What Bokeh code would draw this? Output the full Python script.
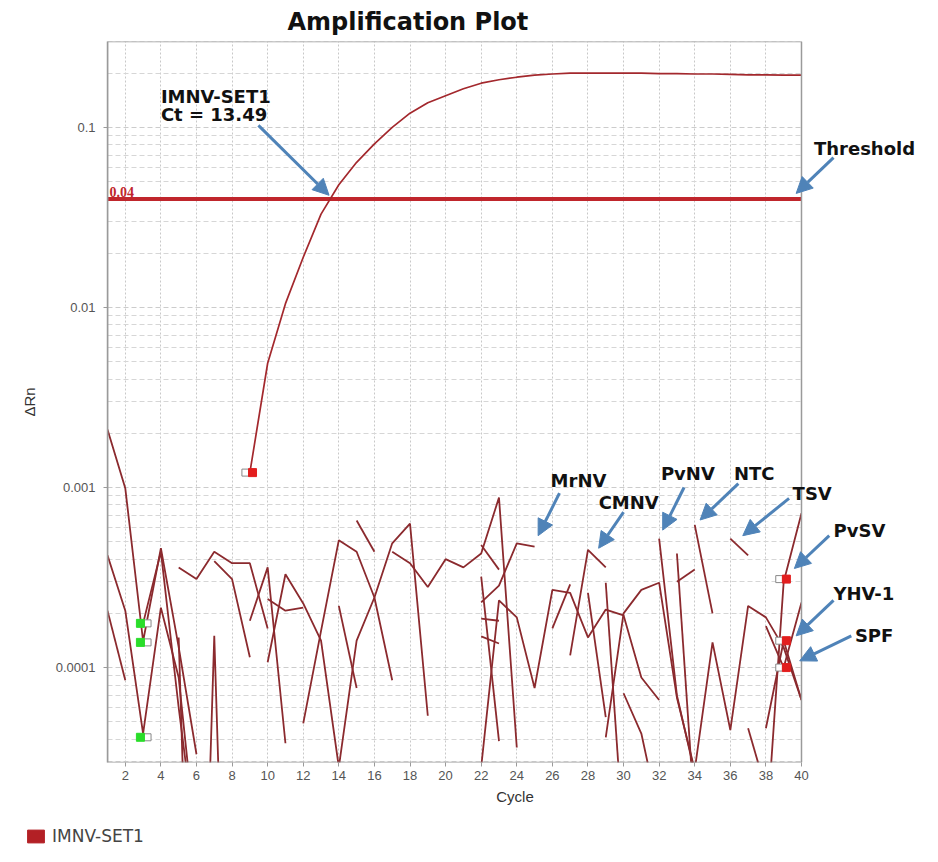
import numpy as np
from bokeh.plotting import figure
from bokeh.layouts import column
from bokeh.models import (Range1d, FixedTicker, CustomJSTickFormatter, Span, Label, BoxAnnotation,
                          Arrow, NormalHead, Legend, LegendItem, ColumnDataSource)
from bokeh.transform import dodge
from bokeh.embed import file_html
from bokeh.resources import INLINE

# ---------------- data ----------------
x_ticks = list(range(2, 41, 2))
y_ticks = [0.0001, 0.001, 0.01, 0.1]
cycle_first, cycle_last = 1, 40
y_low, y_high = 2.97e-5, 0.3
threshold = 0.04

# IMNV-SET1 amplification curve (cycle, delta Rn)
series_name = "IMNV-SET1"
imnv_cycle = list(range(9, 41))
imnv_value = [0.00121, 0.0049, 0.0105, 0.019, 0.033, 0.048, 0.064, 0.081, 0.100, 0.120,
              0.137, 0.150, 0.164, 0.176, 0.184, 0.190, 0.195, 0.198, 0.200, 0.200,
              0.200, 0.200, 0.200, 0.199, 0.199, 0.198, 0.198, 0.197, 0.196, 0.196,
              0.195, 0.195]

# negative samples / noise traces: (first cycle, values)
noise_starts = [1, 1, 1, 3, 5, 6, 5, 7, 9, 10, 10, 12, 14, 15, 17, 22, 22, 22, 22, 22,
                22, 26, 27, 28, 29, 29, 30, 32, 33, 33, 34, 36, 37, 38, 38, 38]
noise_values = [
    [2.1e-3, 9.9e-4, 1.4e-4, 4.6e-4, 1.3e-4, 3.3e-5],
    [4.2e-4, 2.07e-4, 4.3e-5, 2.15e-4, 8.8e-5, 1.0e-5],
    [2.07e-4, 8.5e-5],
    [1.76e-4, 4.4e-4, 6.0e-5, 1.0e-5],
    [1.47e-4, 1.0e-7],
    [1.0e-7, 1.5e-4, 1.0e-7],
    [3.6e-4, 3.1e-4, 4.4e-4, 3.8e-4, 3.8e-4, 1.65e-4],
    [3.9e-4, 3.1e-4, 1.14e-4],
    [1.82e-4, 3.6e-4, 3.8e-5],
    [1.07e-4, 3.3e-4, 2.27e-4, 1.41e-4, 2.8e-5, 1.41e-4, 2.45e-4, 4.9e-4, 6.3e-4, 5.4e-5],
    [2.4e-4, 2.07e-4, 2.15e-4],
    [4.9e-5, 1.6e-4, 5.1e-4, 4.4e-4, 2.45e-4, 8.5e-5],
    [2.2e-4, 7.7e-5],
    [6.56e-4, 4.4e-4],
    [4.4e-4, 3.8e-4, 2.8e-4, 4.0e-4, 3.6e-4, 4.3e-4, 8.8e-4, 3.6e-5],
    [4.8e-4, 3.5e-4],
    [2.3e-4, 2.85e-4, 4.9e-4, 4.7e-4],
    [3.2e-4, 3.9e-5],
    [1.87e-4, 1.82e-4],
    [1.49e-4, 1.36e-4],
    [2.8e-5, 2.36e-4, 1.9e-4, 7.7e-5, 2.7e-4, 2.6e-4, 1.47e-4, 2.1e-4, 1.95e-4, 8.8e-5, 6.6e-5],
    [1.65e-4, 2.9e-4],
    [1.17e-4, 4.5e-4, 3.6e-4],
    [2.6e-4, 5.3e-5],
    [2.96e-4, 1.1e-5],
    [4.1e-5, 2.0e-4, 2.7e-4, 2.96e-4, 6.8e-5, 2.7e-5, 1.38e-4, 4.5e-5, 2.2e-4, 1.9e-4, 1.29e-4, 6.6e-5],
    [7.2e-5, 4.3e-5, 1.5e-5],
    [5.2e-4, 7.0e-5, 2.6e-5],
    [4.3e-4, 1.5e-5],
    [3.0e-4, 3.5e-4],
    [6.2e-4, 2.0e-4],
    [5.2e-4, 4.2e-4],
    [4.6e-5, 2.1e-5],
    [4.6e-5, 1.41e-4, 6.6e-5],
    [1.1e-5, 3.0e-4, 7.2e-4],
    [1.7e-4, 1.0e-4, 2.3e-4],
]

# Ct / baseline markers
green_cycle = [3, 3, 3]
green_value = [1.76e-4, 1.38e-4, 4.1e-5]
red_cycle = [9, 39, 39, 39]
red_value = [1.21e-3, 3.1e-4, 1.41e-4, 1.0e-4]

# ---------------- figure ----------------
LINE = "#8b2a2e"
GRAY = "#9a9a9a"
SWATCH = "#b32025"
p = figure(width=922, height=812, output_backend="svg", toolbar_location=None,
           y_axis_type="log", x_range=Range1d(cycle_first, 46.8), y_range=Range1d(y_low, y_high),
           min_border_left=107, min_border_right=0, min_border_top=41, min_border_bottom=50,
           background_fill_color="white", border_fill_color="white")
p.outline_line_color = None

p.title.text = "Amplification Plot"
p.title.text_font = "DejaVu Sans"
p.title.text_font_size = "24px"
p.title.text_font_style = "bold"
p.title.text_color = "#111111"
p.title.align = "left"
p.title.offset = 180
p.title.standoff = 11

# axes
p.xaxis.ticker = FixedTicker(ticks=x_ticks)
minor = [k * 10.0 ** e for e in range(-5, 0) for k in range(2, 10)]
p.yaxis.ticker = FixedTicker(ticks=y_ticks, minor_ticks=minor)
p.yaxis.formatter = CustomJSTickFormatter(code="return tick.toString();")
for ax in (p.xaxis[0], p.yaxis[0]):
    ax.axis_line_color = GRAY
    ax.axis_line_width = 1.5
    ax.major_tick_line_color = GRAY
    ax.major_tick_out = 4
    ax.major_tick_in = 0
    ax.minor_tick_line_color = None
    ax.major_label_text_font = "Liberation Sans"
    ax.major_label_text_font_size = "13px"
    ax.major_label_text_color = "#555555"
    ax.axis_label_text_font = "Liberation Sans"
    ax.axis_label_text_font_size = "15px"
    ax.axis_label_text_font_style = "normal"
    ax.axis_label_text_color = "#333333"
p.xaxis.axis_line_color = None
p.xaxis.axis_label = "Cycle"
p.yaxis.axis_label = "\u0394Rn"
p.xaxis.major_label_standoff = 4
p.xaxis.axis_label_standoff = 5
p.yaxis.major_label_standoff = 8
p.yaxis.axis_label_standoff = 15

# grids (limited to the cycle range)
p.xgrid.ticker = FixedTicker(ticks=x_ticks)
p.xgrid.grid_line_color = "#c8c8c8"
p.xgrid.grid_line_dash = "2 2"
p.ygrid.grid_line_color = "#cccccc"
p.ygrid.grid_line_dash = "5 3"
p.ygrid.minor_grid_line_color = "#d6d6d6"
p.ygrid.minor_grid_line_dash = "5 3"
p.ygrid.cross_bounds = (cycle_first, cycle_last)

# threshold line (under the traces), then blank area right of the last cycle
p.add_layout(Span(location=threshold, dimension="width", line_color="#c0262c", line_width=4,
                  level="underlay"))
p.add_layout(BoxAnnotation(left=cycle_last, fill_color="white", fill_alpha=1, line_color=None,
                           level="glyph"))
# plot border
p.add_layout(BoxAnnotation(left=cycle_first, right=cycle_last, bottom=y_low, top=y_high,
                           fill_alpha=0, line_color=GRAY, line_width=1.5, line_alpha=1))

# noise traces
xs = [list(range(s, s + len(v))) for s, v in zip(noise_starts, noise_values)]
p.multi_line(xs=xs, ys=noise_values, line_color=LINE, line_width=1.8)

# amplification curve
p.line(imnv_cycle, imnv_value, line_color="#a3282d", line_width=1.7)

p.add_layout(Label(x=cycle_first, y=threshold, text=str(threshold), text_font="Liberation Serif",
                   text_font_style="bold", text_font_size="14px", text_color="#c0262c",
                   x_offset=2, y_offset=2, text_baseline="bottom"))

# markers
gsrc = ColumnDataSource(dict(x=green_cycle, y=green_value))
rsrc = ColumnDataSource(dict(x=red_cycle, y=red_value))
p.scatter(dodge("x", 0.25, range=p.x_range), "y", source=gsrc, marker="square", size=7,
          fill_color="white", line_color="#888888", line_width=1)
p.scatter(dodge("x", -0.15, range=p.x_range), "y", source=gsrc, marker="square", size=8,
          fill_color="#2add2a", line_color="#2add2a")
p.scatter(dodge("x", -0.25, range=p.x_range), "y", source=rsrc, marker="square", size=7,
          fill_color="white", line_color="#888888", line_width=1)
p.scatter(dodge("x", 0.15, range=p.x_range), "y", source=rsrc, marker="square", size=8,
          fill_color="#e31e1e", line_color="#e31e1e")

# annotations
ARROW = "#4f83b8"
def note(text, x, y):
    p.add_layout(Label(x=x, y=y, text=text, text_font="DejaVu Sans", text_font_style="bold",
                       text_font_size="18px", text_color="#111111", text_baseline="middle"))

def arrow(x0, y0, x1, y1):
    p.add_layout(Arrow(x_start=x0, y_start=y0, x_end=x1, y_end=y1, line_color=ARROW, line_width=3,
                       end=NormalHead(size=16, fill_color=ARROW, line_color=ARROW)))

note(series_name, 4.0, 0.149)
note("Ct = 13.49", 4.0, 0.118)
arrow(9.48, 0.1026, 13.45, 0.042)
note("Threshold", 40.7, 0.0764)
arrow(41.8, 0.068, 39.7, 0.043)
note("MrNV", 25.9, 1.09e-3)
arrow(26.4, 9.3e-4, 25.2, 5.4e-4)
note("CMNV", 28.6, 8.25e-4)
arrow(30.0, 7.3e-4, 28.6, 4.6e-4)
note("PvNV", 32.1, 1.2e-3)
arrow(33.4, 1.0e-3, 32.2, 5.8e-4)
note("NTC", 36.2, 1.2e-3)
arrow(36.45, 1.05e-3, 34.3, 6.6e-4)
note("TSV", 39.5, 9.26e-4)
arrow(39.3, 8.7e-4, 36.7, 5.4e-4)
note("PvSV", 41.8, 5.77e-4)
arrow(41.56, 5.4e-4, 39.6, 3.55e-4)
note("YHV-1", 41.8, 2.58e-4)
arrow(41.8, 2.36e-4, 39.7, 1.5e-4)
note("SPF", 43.0, 1.5e-4)
arrow(42.8, 1.5e-4, 39.9, 1.09e-4)

# legend strip below the chart (hidden bar renderer of the series supplies the swatch)
pl = figure(width=922, height=34, output_backend="svg", toolbar_location=None,
            min_border=0, x_axis_type=None, y_axis_type=None, outline_line_color=None,
            background_fill_color="white", border_fill_color="white")
pl.frame_align = False
pl.grid.visible = False
r_leg = pl.vbar(x=imnv_cycle, top=imnv_value, width=0.8, fill_color=SWATCH, line_color=SWATCH,
                visible=False)
legend = Legend(items=[LegendItem(label=series_name, renderers=[r_leg])],
                location=(25, 0), padding=0, margin=0, border_line_color=None,
                background_fill_alpha=0, glyph_width=21, glyph_height=16, label_standoff=6,
                label_text_font="DejaVu Sans", label_text_font_size="17px",
                label_text_color="#444444")
pl.add_layout(legend)

open("out.html", "w").write(file_html(column(p, pl, spacing=0), INLINE))
